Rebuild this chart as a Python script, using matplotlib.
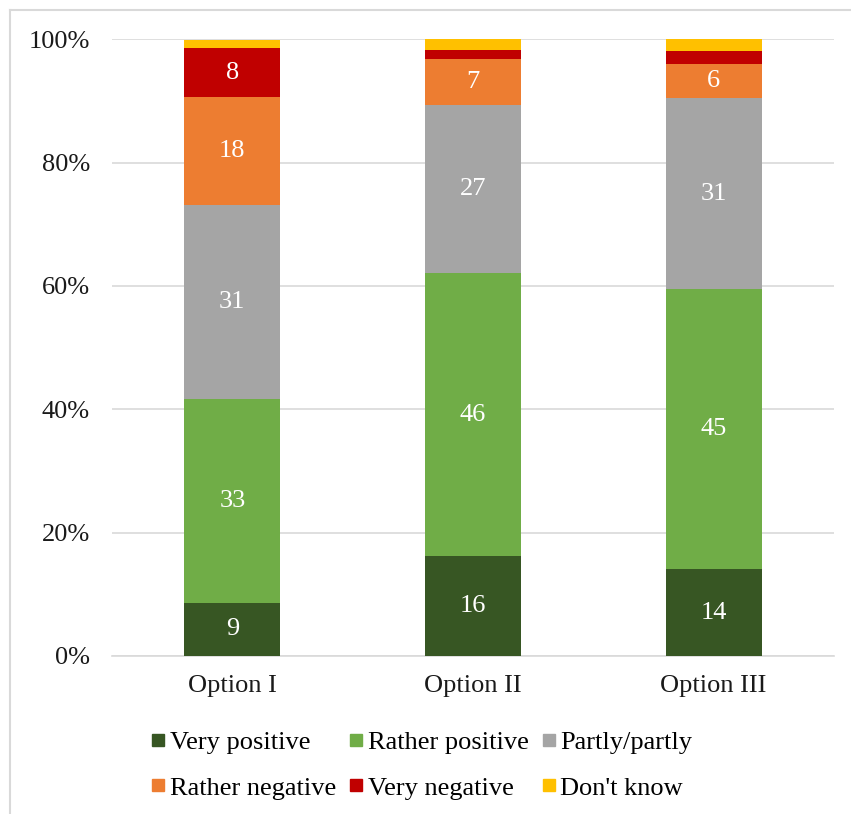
import matplotlib
matplotlib.use('Agg')
import matplotlib.pyplot as plt
import numpy as np
from matplotlib.lines import Line2D
from matplotlib.ticker import FuncFormatter

# Survey answers per option, in percent
options = ['Option I', 'Option II', 'Option III']
categories = ['Very positive', 'Rather positive', 'Partly/partly',
              'Rather negative', 'Very negative', "Don't know"]
very_positive = [8.6, 16.2, 14.1]
rather_positive = [33.1, 45.9, 45.4]
partly = [31.4, 27.3, 30.9]
rather_negative = [17.6, 7.4, 5.6]
very_negative = [7.8, 1.5, 2.1]
dont_know = [1.4, 1.7, 1.9]

series = [very_positive, rather_positive, partly,
          rather_negative, very_negative, dont_know]
colors = ['#375623', '#70AD47', '#A5A5A5', '#ED7D31', '#C00000', '#FFC000']

plt.rcParams['font.family'] = ['Liberation Serif', 'DejaVu Serif']
fs = 19

fig = plt.figure(figsize=(8.51, 8.14), dpi=100)
ax = fig.add_axes([112 / 851, 1 - 656 / 814, 722 / 851, (656 - 39.2) / 814])

x = np.arange(len(options))
bottom = np.zeros(len(options))
for vals, col in zip(series, colors):
    vals = np.array(vals)
    ax.bar(x, vals, width=0.4, bottom=bottom, color=col, zorder=3)
    # value labels only where the segment is large enough
    for xi, b, v in zip(x, bottom, vals):
        if v >= 5:
            ax.text(xi, b + v / 2, f'{v:.0f}', ha='center', va='center',
                    color='white', fontsize=fs, zorder=4)
    bottom += vals

ax.set_xlim(-0.5, 2.5)
ax.set_ylim(0, 100)
ax.set_yticks(np.arange(0, 101, 20))
ax.yaxis.set_major_formatter(FuncFormatter(lambda v, _: f'{v:.0f}%'))
ax.set_xticks(x)
ax.set_xticklabels(options)
ax.tick_params(axis='y', length=0, pad=16, labelsize=fs, colors='#1a1a1a')
ax.tick_params(axis='x', length=0, pad=14, labelsize=fs, colors='#1a1a1a')

ax.grid(axis='y', color='#D9D9D9', linewidth=1.2, zorder=0)
for side in ['left', 'right', 'top']:
    ax.spines[side].set_visible(False)
ax.spines['bottom'].set_color('#D9D9D9')
ax.spines['bottom'].set_linewidth(1.2)

# Legend laid out row by row: matplotlib fills columns first, so reorder
handles = [Line2D([], [], marker='s', linestyle='none', markersize=8,
                  markerfacecolor=c, markeredgecolor=c) for c in colors]
order = [0, 3, 1, 4, 2, 5]
fig.legend([handles[i] for i in order], [categories[i] for i in order],
           ncol=3, loc='center', bbox_to_anchor=(422 / 851, 1 - 765 / 814),
           frameon=False, fontsize=fs, handlelength=0.5, handletextpad=0.2,
           columnspacing=0.5, labelspacing=0.85, borderpad=0)

# Thin chart-area frame along the top and left edges
fig.add_artist(Line2D([9.5 / 851, 9.5 / 851], [0, 1 - 10 / 814],
                      color='#D9D9D9', linewidth=1.5, transform=fig.transFigure))
fig.add_artist(Line2D([9.5 / 851, 1], [1 - 10 / 814, 1 - 10 / 814],
                      color='#D9D9D9', linewidth=1.5, transform=fig.transFigure))

plt.savefig('out.png', dpi=100)
